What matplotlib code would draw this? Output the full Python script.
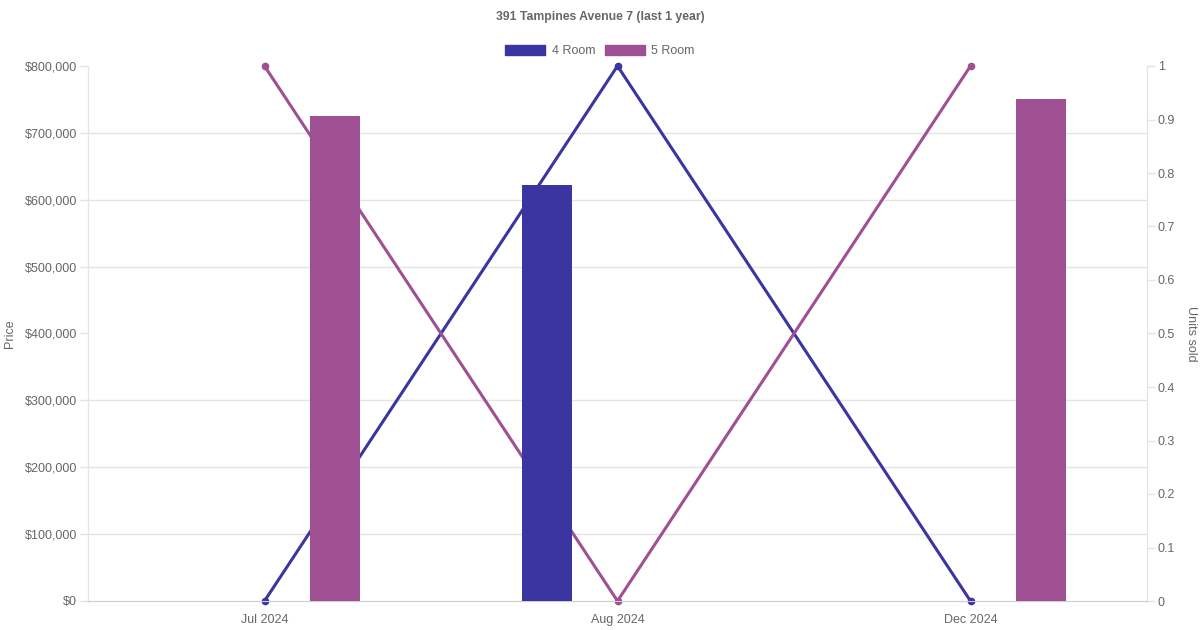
import matplotlib
matplotlib.use('Agg')
import matplotlib.pyplot as plt
from matplotlib.patches import Patch
from matplotlib.ticker import FuncFormatter, MultipleLocator

months = ['Jul 2024', 'Aug 2024', 'Dec 2024']
price_4room = [None, 622000, None]
price_5room = [725000, None, 750000]
units_4room = [0, 1, 0]
units_5room = [1, 0, 1]

c4 = '#3a35a0'
c5 = '#9e5093'
grey = '#666666'
grid = '#e4e4e4'

plt.rcParams['font.family'] = ['Liberation Sans', 'DejaVu Sans']
plt.rcParams['font.size'] = 9
plt.rcParams['xtick.major.pad'] = 15.5
plt.rcParams['xtick.major.size'] = 0

fig = plt.figure(figsize=(12, 6.3), dpi=100)
ax = fig.add_axes([88 / 1200, 29 / 630, 1059 / 1200, 535 / 630])
ax2 = ax.twinx()

x = list(range(len(months)))

price_max = 800000
price_step = 100000

# units sold lines on the base axes (right side), bars on the twin (left side) so bars sit on top
ax.plot(x, units_4room, color=c4, lw=2.2, marker='o', ms=4.5, zorder=3, clip_on=False)
ax.plot(x, units_5room, color=c5, lw=2.2, marker='o', ms=4.5, zorder=3, clip_on=False)
ax.set_ylim(0, 1)
ax.set_xlim(-0.5, len(months) - 0.5)
ax.yaxis.tick_right()
ax.yaxis.set_label_position('right')
ax.yaxis.set_major_locator(MultipleLocator(0.1))
ax.yaxis.set_major_formatter(FuncFormatter(lambda v, p: f'{v:g}'))
# price grid drawn on the base axes so it stays behind the lines
ax.yaxis.set_minor_locator(MultipleLocator(price_step / price_max))
ax.grid(axis='y', which='minor', color=grid, lw=1, zorder=0)
ax.tick_params(axis='y', which='minor', length=0)
ax.set_ylabel('Units sold', color=grey, rotation=270, labelpad=16)

w = 50 / 353
off = 0.2
for i in x:
    if price_4room[i] is not None:
        ax2.bar(i - off, price_4room[i], width=w, color=c4, zorder=3)
    if price_5room[i] is not None:
        ax2.bar(i + off, price_5room[i], width=w, color=c5, zorder=3)
ax2.set_ylim(0, price_max)
ax2.yaxis.tick_left()
ax2.yaxis.set_label_position('left')
ax2.yaxis.set_major_locator(MultipleLocator(price_step))
ax2.yaxis.set_major_formatter(FuncFormatter(lambda v, p: f'${v:,.0f}'))
ax2.set_ylabel('Price', color=grey, labelpad=6)

ax.set_xticks(x)
ax.set_xticklabels(months, color=grey, va='baseline')

for a in (ax, ax2):
    a.tick_params(axis='y', which='major', colors=grey, length=5.8, width=1, pad=2)
    a.tick_params(axis='y', which='major', color=grid)
    a.spines['top'].set_visible(False)
    a.spines['left'].set_color(grid)
    a.spines['right'].set_color(grid)
    a.spines['bottom'].set_color('#cfcfcf')

fig.text(0.5, 1 - 17 / 630, '391 Tampines Avenue 7 (last 1 year)', ha='center', va='center',
         color=grey, fontweight='bold', fontsize=8.8)
handles = [Patch(facecolor=c4, edgecolor=c4), Patch(facecolor=c5, edgecolor=c5)]
fig.legend(handles, ['4 Room', '5 Room'], loc='center', bbox_to_anchor=(0.5, 1 - 51 / 630),
           ncol=2, frameon=False, handlelength=3.2, handleheight=0.95, columnspacing=0.8,
           handletextpad=0.5, labelcolor=grey)

fig.savefig('out.png', dpi=100)
